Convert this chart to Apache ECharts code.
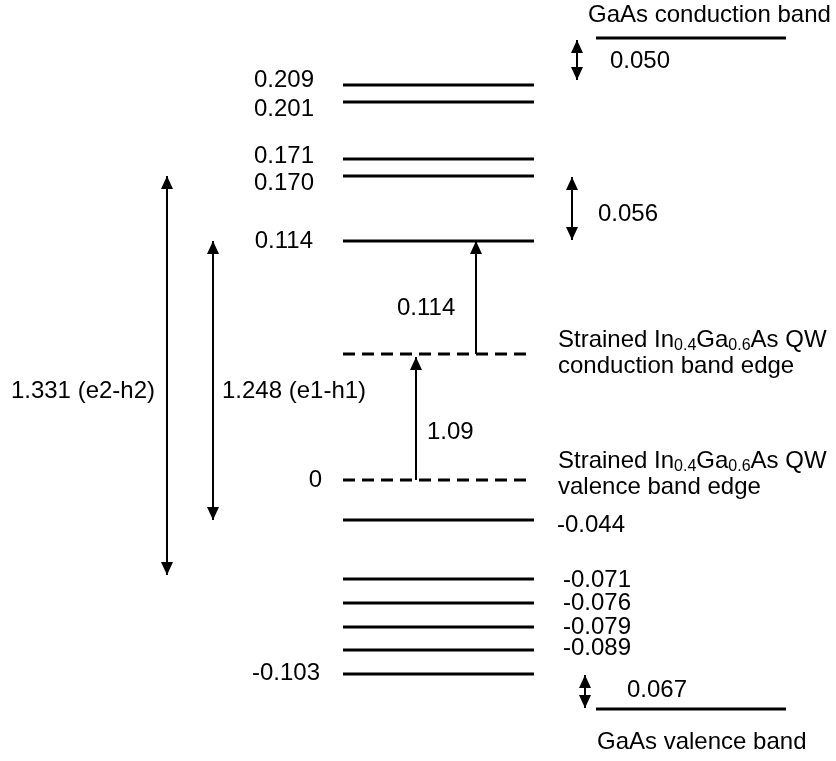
<!DOCTYPE html>
<html>
<head>
<meta charset="utf-8">
<script src="https://cdn.jsdelivr.net/npm/echarts@6/dist/echarts.min.js"></script>
<style>
html, body { margin: 0; padding: 0; background: #fff; }
#main { width: 836px; height: 761px; }
</style>
</head>
<body>
<div id="main"></div>
<script>
// sub-band energies (eV) of the strained QW
var wellLevels = [0.209, 0.201, 0.171, 0.170, 0.114, -0.044, -0.071, -0.076, -0.079, -0.089, -0.103];
// schematic height of each level in the sketch (not to scale), QW valence band edge = 0
var levelHeights = [395, 378, 321, 304, 239, -40, -99, -123, -147, -170, -194];
var labelSide = ['left', 'left', 'left', 'left', 'left', 'right', 'right', 'right', 'right', 'right', 'left'];

// QW band edges (dashed)
var edgeNames = ['conduction band edge', 'valence band edge'];
var edgeHeights = [126, 0];

// GaAs barrier bands
var gaasNames = ['GaAs conduction band', 'GaAs valence band'];
var gaasHeights = [442, -229];

// transitions and offsets, drawn as arrows
var arrowLabels = ['1.331 (e2-h2)', '1.248 (e1-h1)', '0.114', '1.09', '0.050', '0.056', '0.067'];
var arrowFrom = [-95, -40, 126, 0, 400, 240, -228];
var arrowTo = [304, 239, 239, 123, 440, 303, -195];
var arrowBoth = [1, 1, 0, 0, 1, 1, 1];

// ---- layout (pixels / drawing units) ----
var FONT = '"Liberation Sans", Arial, sans-serif';
var wellX = [343, 534];
var edgeX = [343, 527];
var gaasX = [596, 786];
var arrowX = [167, 213, 476, 416, 577, 572, 585];
var arrowLabelAt = [[155, 89, 'right'], [222, 89, 'left'], [397, 172, 'left'], [427, 48, 'left'],
    [610, 419, 'left'], [598, 266, 'left'], [627, -210, 'left']];
var labelNudge = [-5, 7, -3, 7, 0, 5, 1, 0, 0, -2, -1];
var labelRightX = [314, 314, 314, 314, 313, 557, 563, 563, 563, 563, 320];

var subTitle = '{n|Strained In}{s|0.4}{n|Ga}{s|0.6}{n|As QW}';
var RICH = {
    n: { fontSize: 24, lineHeight: 28, fontFamily: FONT, color: '#000' },
    s: { fontSize: 16, lineHeight: 16, fontFamily: FONT, color: '#000', verticalAlign: 'bottom' }
};

// horizontal lines: [x0, x1, height, dashed]
var lines = [];
levelHeights.forEach(function (h) { lines.push([wellX[0], wellX[1], h, 0]); });
edgeHeights.forEach(function (h) { lines.push([edgeX[0], edgeX[1], h, 1]); });
gaasHeights.forEach(function (h) { lines.push([gaasX[0], gaasX[1], h, 0]); });

// text items
var texts = [];
wellLevels.forEach(function (v, i) {
    var left = labelSide[i] === 'left';
    texts.push({ x: labelRightX[i], h: levelHeights[i] - labelNudge[i], text: v.toFixed(3), align: left ? 'right' : 'left' });
});
texts.push({ x: 322, h: edgeHeights[1], text: '0', align: 'right' });
arrowLabels.forEach(function (t, i) {
    texts.push({ x: arrowLabelAt[i][0], h: arrowLabelAt[i][1], text: t, align: arrowLabelAt[i][2] });
});
texts.push({ x: 588, h: 465, text: gaasNames[0], align: 'left' });
texts.push({ x: 597, h: -262, text: gaasNames[1], align: 'left' });
texts.push({ x: 558, h: 140, text: subTitle, align: 'left' });
texts.push({ x: 558, h: 114, text: edgeNames[0], align: 'left' });
texts.push({ x: 558, h: 19, text: subTitle, align: 'left' });
texts.push({ x: 558, h: -7, text: edgeNames[1], align: 'left' });

var myChart = echarts.init(document.getElementById('main'));

function head(x, y, dir) {
    // dir = -1 points up on screen, 1 points down
    return {
        type: 'polygon',
        shape: { points: [[x, y], [x - 6, y - dir * 13], [x + 6, y - dir * 13]] },
        style: { fill: '#000' }
    };
}

myChart.setOption({
    animation: false,
    backgroundColor: '#fff',
    grid: { left: 0, right: 0, top: 0, bottom: 0 },
    xAxis: { type: 'value', min: 0, max: 836, show: false },
    yAxis: { type: 'value', min: -281, max: 480, show: false },
    series: [{
        type: 'custom',
        data: lines,
        renderItem: function (params, api) {
            var p0 = api.coord([api.value(0), api.value(2)]);
            var p1 = api.coord([api.value(1), api.value(2)]);
            return {
                type: 'line',
                shape: { x1: p0[0], y1: p0[1], x2: p1[0], y2: p1[1] },
                style: { stroke: '#000', lineWidth: 3, lineDash: api.value(3) ? [12, 7] : null }
            };
        }
    }, {
        type: 'custom',
        data: arrowFrom.map(function (f, i) { return [arrowX[i], f, arrowTo[i], arrowBoth[i]]; }),
        renderItem: function (params, api) {
            var a = api.coord([api.value(0), api.value(1)]);
            var b = api.coord([api.value(0), api.value(2)]);
            var children = [{
                type: 'line',
                shape: { x1: a[0], y1: a[1], x2: b[0], y2: b[1] },
                style: { stroke: '#000', lineWidth: 2 }
            }];
            var up = b[1] < a[1] ? -1 : 1;
            children.push(head(b[0], b[1], up));
            if (api.value(3)) children.push(head(a[0], a[1], -up));
            return { type: 'group', children: children };
        }
    }, {
        type: 'custom',
        data: texts.map(function (t) { return [t.x, t.h]; }),
        renderItem: function (params, api) {
            var t = texts[params.dataIndex];
            var p = api.coord([api.value(0), api.value(1)]);
            return {
                type: 'text',
                x: p[0],
                y: p[1],
                style: {
                    text: t.text,
                    fill: '#000',
                    fontSize: 24,
                    fontFamily: FONT,
                    align: t.align,
                    verticalAlign: 'middle',
                    rich: RICH
                }
            };
        }
    }]
});
</script>
</body>
</html>
